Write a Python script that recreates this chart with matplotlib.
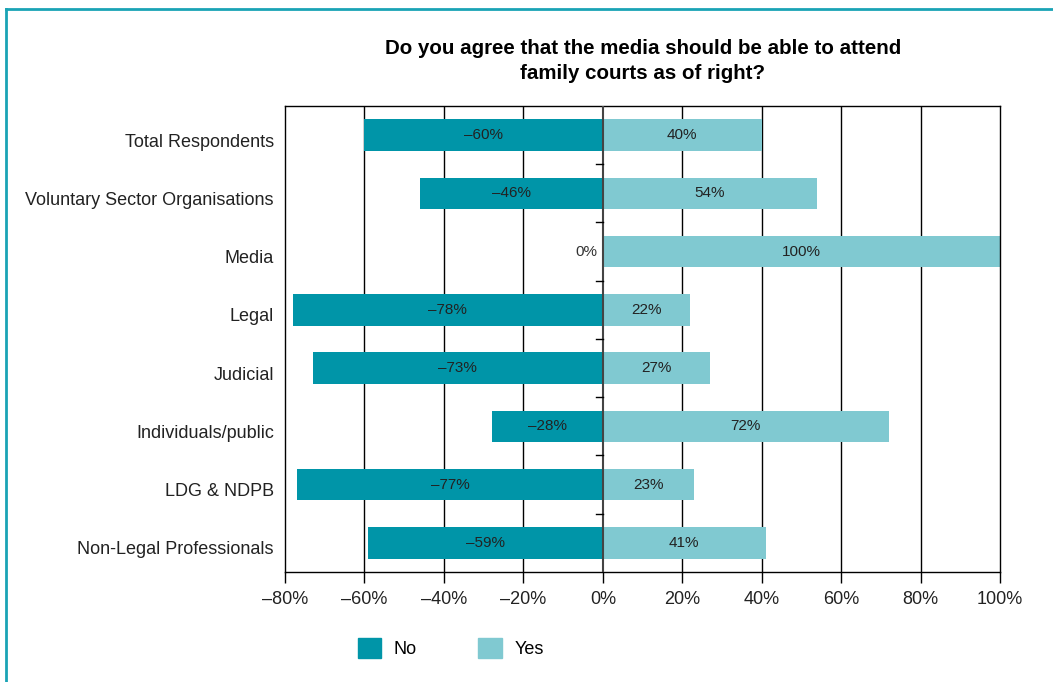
import matplotlib
matplotlib.use("Agg")
import matplotlib.pyplot as plt
import matplotlib.transforms as mtransforms
from matplotlib.lines import Line2D
from matplotlib.patches import Patch

plt.rcParams['font.family'] = ['Liberation Sans', 'DejaVu Sans']

# data, top to bottom
categories = ['Total Respondents', 'Voluntary Sector Organisations', 'Media', 'Legal',
              'Judicial', 'Individuals/public', 'LDG & NDPB', 'Non-Legal Professionals']
no_vals = [-60, -46, 0, -78, -73, -28, -77, -59]
yes_vals = [40, 54, 100, 22, 27, 72, 23, 41]
xticks = [-80, -60, -40, -20, 0, 20, 40, 60, 80, 100]

dark = '#0095a8'
light = '#80c9d1'
txt = '#222222'

fig = plt.figure(figsize=(10.53, 6.82), dpi=100)
ax = fig.add_axes([0.2707, 0.1613, 0.679, 0.6833])

y = list(range(len(categories)))
ax.barh(y, no_vals, height=0.54, color=dark, zorder=2)
ax.barh(y, yes_vals, height=0.54, color=light, zorder=2)

# value labels
for i, (n, p) in enumerate(zip(no_vals, yes_vals)):
    if n == 0:
        ax.text(-1.3, i, '0%', ha='right', va='center', fontsize=11, color='#333333', zorder=3)
    else:
        ax.text(n / 2, i, '\u2013%d%%' % abs(n), ha='center', va='center', fontsize=11, color=txt, zorder=3)
    ax.text(p / 2, i, '%d%%' % p, ha='center', va='center', fontsize=11, color=txt, zorder=3)

ax.set_xlim(-80, 100)
ax.set_ylim(len(categories) - 0.5, -0.5)
ax.set_yticks(y)
ax.set_yticklabels(categories, fontsize=13, color=txt)
ax.tick_params(axis='y', length=0, pad=8)
# category labels sit a little below the bar centres in the original
shift = mtransforms.ScaledTranslation(0, -0.05, fig.dpi_scale_trans)
for lab in ax.get_yticklabels():
    lab.set_transform(lab.get_transform() + shift)
ax.set_xticks(xticks)
ax.set_xticklabels([('\u2013%d%%' % abs(v)) if v < 0 else '%d%%' % v for v in xticks],
                   fontsize=13, color=txt)
ax.tick_params(axis='x', length=8, width=1, direction='out', pad=6)

# vertical grid lines
for v in xticks[1:-1]:
    if v != 0:
        ax.axvline(v, color='black', lw=1, zorder=1)
ax.axvline(0, color='#444444', lw=1.5, zorder=3)
# little ticks on the zero line between categories
for b in range(len(categories) - 1):
    ax.plot([-1.8, 0], [b + 0.5, b + 0.5], color='black', lw=1, zorder=3, clip_on=False)

for s in ax.spines.values():
    s.set_color('black')
    s.set_linewidth(1)

fig.text(0.6106, 0.911, 'Do you agree that the media should be able to attend\nfamily courts as of right?',
         ha='center', va='center', fontsize=14.8, fontweight='bold', color='black', linespacing=1.4)

handles = [Patch(color=dark), Patch(color=light)]
fig.legend(handles, ['No', 'Yes'], loc='center', bbox_to_anchor=(0.428, 0.05), ncol=2, frameon=False,
           fontsize=13, handlelength=1.3, handleheight=1.3, columnspacing=3.4, handletextpad=0.7)

# teal frame
fig.add_artist(Line2D([0.0057, 1.0], [1 - 9 / 682, 1 - 9 / 682], color='#1aa3b5', lw=2, transform=fig.transFigure))
fig.add_artist(Line2D([0.0057, 0.0057], [0, 1 - 9 / 682], color='#1aa3b5', lw=2, transform=fig.transFigure))

fig.savefig('out.png', dpi=100)
